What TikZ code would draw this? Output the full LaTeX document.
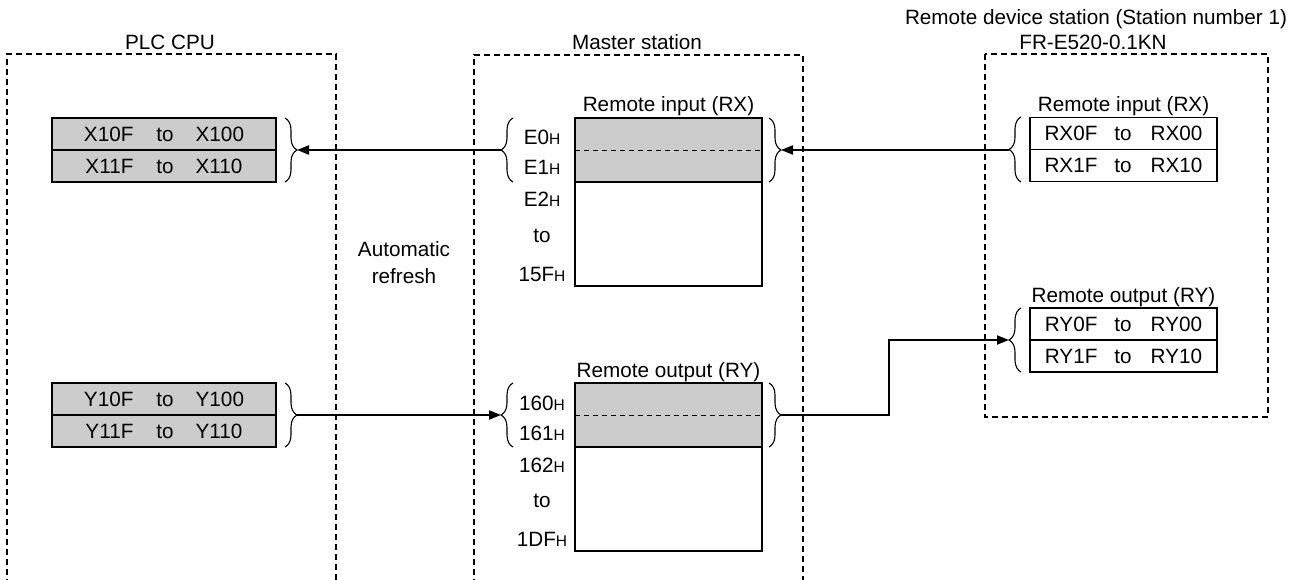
\documentclass[tikz,border=0pt]{standalone}
\usepackage{fontspec}
\setmainfont{Liberation Sans}
\usetikzlibrary{decorations.pathreplacing,arrows.meta}
\newcommand\hsub{{\fontsize{15.5}{18}\selectfont H}}
\definecolor{cellgrey}{RGB}{204,204,204}
\begin{document}
\begin{tikzpicture}[x=1pt,y=-1pt,
  every node/.style={font=\fontsize{20.7}{24}\selectfont, inner sep=0pt, outer sep=0pt},
  frame/.style={line width=1.4pt, dash pattern=on 6pt off 4pt},
  cellbox/.style={draw, line width=1.8pt, minimum height=32pt, anchor=center},
  plccell/.style={cellbox, fill=cellgrey, minimum width=224pt},
  remcell/.style={cellbox, fill=white, minimum width=187pt},
  greyarea/.style={fill=cellgrey, minimum width=187pt, minimum height=64pt},
  tablebox/.style={draw, line width=1.8pt, minimum width=187pt, minimum height=168pt},
  brc/.style={decorate, decoration={brace, amplitude=12pt}, line width=1.1pt},
  conn/.style={line width=2pt, -{Triangle[length=12pt,width=9pt]}},
  lbl/.style={anchor=base},
  innerdash/.style={line width=0.9pt, dash pattern=on 5pt off 4pt},
]
\useasboundingbox (0,0) rectangle (1303,580);

% ---------- frames ----------
\draw[frame] (7,585) -- (7,54) -- (336,54) -- (336,585);
\draw[frame] (474,585) -- (474,55) -- (803,55) -- (803,585);
\draw[frame] (985,54) rectangle (1268,417);

% ---------- titles ----------
\node[lbl] (tplc) at (170,50) {PLC CPU};
\node[lbl] (tmaster) at (637,50) {Master station};
\node[lbl] (tremote) at (1096,25) {Remote device station (Station number 1)};
\node[lbl] (tmodel) at (1093,50) {FR-E520-0.1KN};
\node[lbl] (auto1) at (404,256) {Automatic};
\node[lbl] (auto2) at (404,283) {refresh};

% ---------- PLC CPU ----------
\node[plccell] (x0) at (164,134) {X10F\hspace{23pt}to\hspace{22pt}X100};
\node[plccell] (x1) at (164,166) {X11F\hspace{23pt}to\hspace{22pt}X110};
\node[plccell] (y0) at (164,399) {Y10F\hspace{23pt}to\hspace{22pt}Y100};
\node[plccell] (y1) at (164,431) {Y11F\hspace{23pt}to\hspace{22pt}Y110};
\draw[brc] (285,118) -- (285,182);
\draw[brc] (285,383) -- (285,447);
\coordinate (plcXtip) at (297,150);
\coordinate (plcYtip) at (297,415);

% ---------- Master station: RX ----------
\node[greyarea] (mrxg) at (668.5,150) {};
\node[tablebox] (mrx) at (668.5,202) {};
\draw[innerdash] (mrxg.west) -- (mrxg.east);
\draw[line width=1.8pt] (mrxg.south west) -- (mrxg.south east);
\node[lbl] (mrxt) at (668.5,112) {Remote input (RX)};
\node[lbl] (e0) at (542,145) {E0\hsub};
\node[lbl] (e1) at (542,175) {E1\hsub};
\node[lbl] (e2) at (542,207) {E2\hsub};
\node[lbl] (eto) at (542,242) {to};
\node[lbl] (e15f) at (542,281) {15F\hsub};
\draw[brc] (513,182) -- (513,118);
\draw[brc] (769,118) -- (769,182);
\coordinate (mrxL) at (501,150);
\coordinate (mrxR) at (781,150);

% ---------- Master station: RY ----------
\node[greyarea] (myg) at (668.5,415) {};
\node[tablebox] (mry) at (668.5,467) {};
\draw[innerdash] (myg.west) -- (myg.east);
\draw[line width=1.8pt] (myg.south west) -- (myg.south east);
\node[lbl] (myt) at (668.5,377) {Remote output (RY)};
\node[lbl] (a160) at (542,410) {160\hsub};
\node[lbl] (a161) at (542,440) {161\hsub};
\node[lbl] (a162) at (542,472) {162\hsub};
\node[lbl] (ato) at (542,507) {to};
\node[lbl] (a1df) at (542,546) {1DF\hsub};
\draw[brc] (513,447) -- (513,383);
\draw[brc] (769,383) -- (769,447);
\coordinate (mryL) at (501,415);
\coordinate (mryR) at (781,415);

% ---------- Remote device station ----------
\node[lbl] (rrxt) at (1123.5,112) {Remote input (RX)};
\node[remcell] (rx0) at (1123.5,133.5) {RX0F\hspace{17pt}to\hspace{19pt}RX00};
\node[remcell] (rx1) at (1123.5,165.5) {RX1F\hspace{17pt}to\hspace{19pt}RX10};
\draw[brc] (1021,182) -- (1021,117);
\coordinate (rrxtip) at (1009,150);

\node[lbl] (rryt) at (1123.5,302) {Remote output (RY)};
\node[remcell] (ry0) at (1123.5,324) {RY0F\hspace{17pt}to\hspace{19pt}RY00};
\node[remcell] (ry1) at (1123.5,356) {RY1F\hspace{17pt}to\hspace{19pt}RY10};
\draw[brc] (1021,372) -- (1021,308);
\coordinate (rrytip) at (1009,340);

% ---------- connectors ----------
\coordinate (bend) at (889,415);
\draw[conn] (mrxL) -- (plcXtip);
\draw[conn] (rrxtip) -- (mrxR);
\draw[conn] (plcYtip) -- (mryL);
\draw[conn] (mryR) -- (bend) |- (rrytip);
\end{tikzpicture}
\end{document}
